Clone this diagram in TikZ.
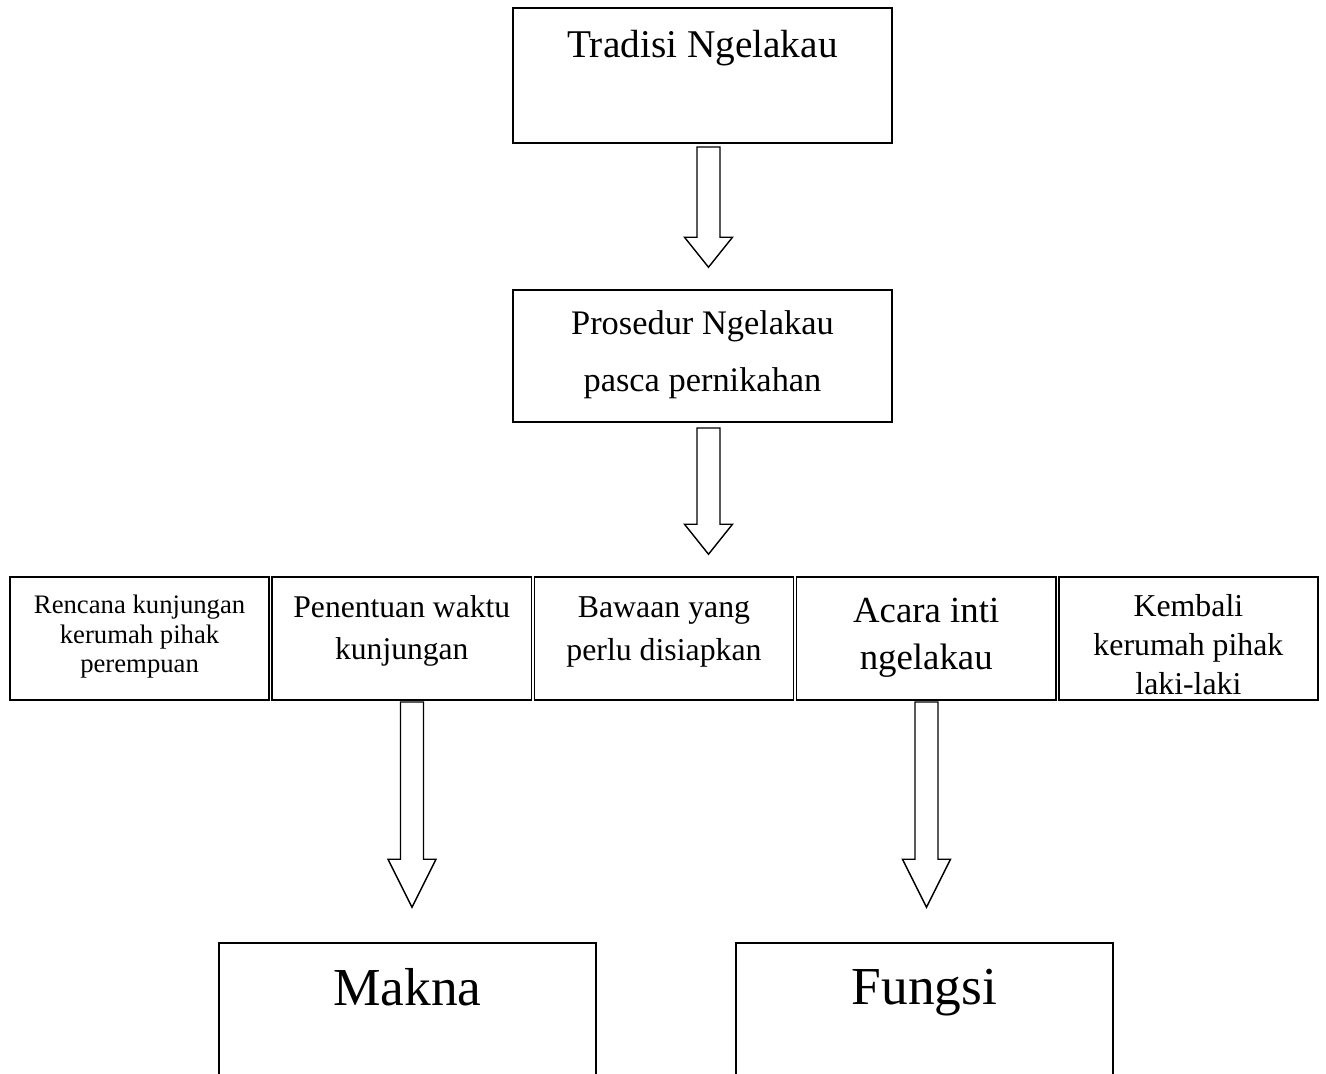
\documentclass[tikz,border=0pt]{standalone}
\usepackage{fontspec}
\setmainfont{Liberation Serif}
\usetikzlibrary{positioning, calc}

\begin{document}
\begin{tikzpicture}[x=0.5pt, y=-0.5pt,
    box/.style={rectangle, draw, line width=0.8pt, inner sep=0pt, align=center, minimum width=189.5pt},
    cell/.style={box, minimum width=129.6pt, minimum height=61.5pt},
    blockarr/.style={line width=0.7pt, to path={let \p1=(\tikztostart), \p2=(\tikztotarget) in
      (\x1-5.75pt,\y1) -- (\x1+5.75pt,\y1) -- (\x1+5.75pt,\y2+#1) -- (\x1+12pt,\y2+#1)
      -- (\x1,\y2) -- (\x1-12pt,\y2+#1) -- (\x1-5.75pt,\y2+#1) -- cycle}},
    blockarr/.default=15pt
  ]
  \useasboundingbox (0,0) rectangle (1326,1073);
  % top of the flow
  \node[box, minimum height=67.5pt, text depth=31.9pt, font=\fontsize{19.65}{23}\selectfont] (tradisi) at (702.5,75.5) {Tradisi Ngelakau};
  \node[box, minimum height=66pt, text depth=5.05pt, font=\fontsize{17.2}{28.5}\selectfont, below=72.7pt of tradisi] (prosedur) {Prosedur Ngelakau\\pasca pernikahan};
  % row of steps
  \node[cell, text depth=10pt, font=\fontsize{15.9}{21.5}\selectfont, below=76.7pt of prosedur, xshift=-19.25pt] (bawaan) {Bawaan yang\\perlu disiapkan};
  \node[cell, text depth=10.7pt, font=\fontsize{15.8}{21}\selectfont, left=0.7pt of bawaan] (penentuan) {Penentuan waktu\\kunjungan};
  \node[cell, text depth=4.4pt, font=\fontsize{13.35}{14.75}\selectfont, left=0.7pt of penentuan] (rencana) {Rencana kunjungan\\kerumah pihak\\perempuan};
  \node[cell, text depth=5.05pt, font=\fontsize{18.4}{23.5}\selectfont, right=0.7pt of bawaan] (acara) {Acara inti\\ngelakau};
  \node[cell, text height=55.9pt, text depth=0pt, font=\fontsize{15.9}{19.5}\selectfont, right=0.7pt of acara] (kembali) {Kembali\\kerumah pihak\\laki-laki};
  % results
  \node[box, minimum width=188.5pt, minimum height=70pt, text depth=26.25pt, font=\fontsize{26.7}{32}\selectfont, below=120.7pt of penentuan, xshift=2.85pt] (makna) {Makna};
  \node[box, minimum width=188.5pt, minimum height=70pt, text depth=26.25pt, font=\fontsize{26.7}{32}\selectfont, below=120.7pt of acara, xshift=-0.85pt] (fungsi) {Fungsi};
  \draw[blockarr] ([xshift=3pt,yshift=-1.6pt]tradisi.south) to ([yshift=11pt]prosedur.north);
  \draw[blockarr] ([xshift=3pt,yshift=-2.6pt]prosedur.south) to ([yshift=11pt]bawaan.north);
  \draw[blockarr=24pt] ([xshift=5.1pt,yshift=-0.6pt]penentuan.south) to ([yshift=17.5pt]makna.north);
  \draw[blockarr=24pt] ([xshift=0.15pt,yshift=-0.6pt]acara.south) to ([yshift=17.5pt]fungsi.north);
\end{tikzpicture}
\end{document}
